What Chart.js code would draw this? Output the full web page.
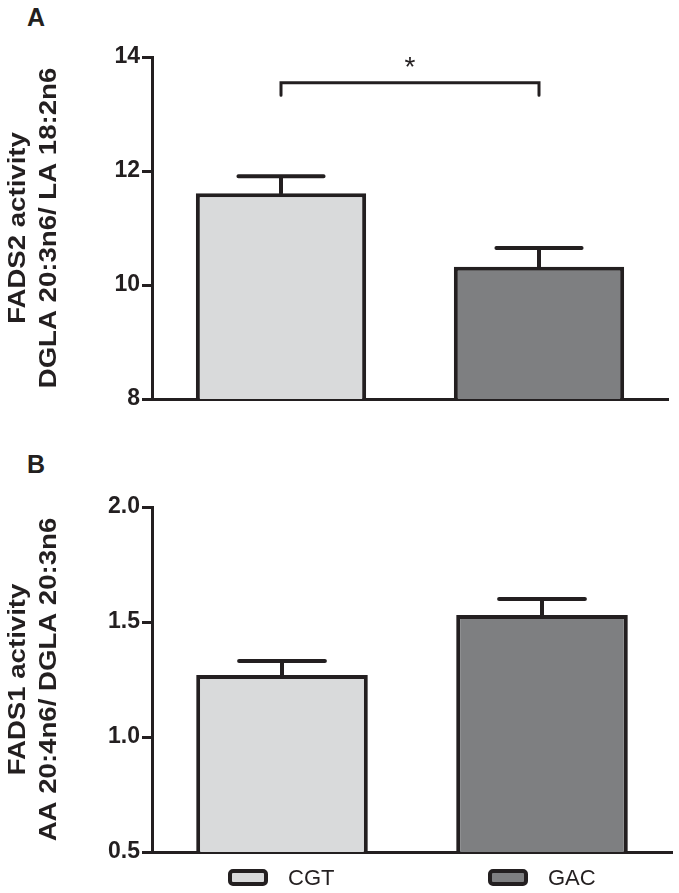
<!DOCTYPE html>
<html>
<head>
<meta charset="utf-8">
<script src="https://cdn.jsdelivr.net/npm/chart.js@4.4.0/dist/chart.umd.min.js"></script>
<style>
  body { margin: 0; background: #fff; width: 679px; height: 893px; position: relative; overflow: hidden; font-family: "Liberation Sans", Arial, sans-serif; }
  .panel-label { position: absolute; font-weight: bold; font-size: 25px; line-height: 1; color: #231f20; }
  canvas { position: absolute; left: 0; }
</style>
</head>
<body>
<div class="panel-label" style="left:27px; top:5px;">A</div>
<div class="panel-label" style="left:27px; top:452px;">B</div>
<canvas id="chartA" width="679" height="430" style="top:0"></canvas>
<canvas id="chartB" width="679" height="453" style="top:440px"></canvas>
<script>
const groups = ['CGT', 'GAC'];
const groupColors = ['#d9dadb', '#7e7f81'];

// panel A: FADS2 activity (mean, SEM)
const fads2Mean = [11.61, 10.32];
const fads2Sem = [0.30, 0.33];
const fads2Ticks = [8, 10, 12, 14];
const fads2Title = ['FADS2 activity', 'DGLA 20:3n6/ LA 18:2n6'];

// panel B: FADS1 activity (mean, SEM)
const fads1Mean = [1.27, 1.53];
const fads1Sem = [0.06, 0.07];
const fads1Ticks = [0.5, 1.0, 1.5, 2.0];
const fads1Title = ['FADS1 activity', 'AA 20:4n6/ DGLA 20:3n6'];

// significance bracket in panel A: level, tip end, star level
const sigBracket = [13.55, 13.33, 13.9];

const ink = '#231f20';
const family = '"Liberation Sans", Arial, sans-serif';

const errorBars = {
    id: 'errorBars',
    afterDatasetsDraw(chart) {
        const ds = chart.data.datasets[0];
        const meta = chart.getDatasetMeta(0);
        const y = chart.scales.y;
        const ctx = chart.ctx;
        ctx.save();
        ctx.strokeStyle = ink;
        ctx.lineWidth = 4;
        ctx.lineCap = 'round';
        meta.data.forEach((bar, i) => {
            const top = y.getPixelForValue(ds.data[i] + ds.errors[i]);
            const half = bar.width * 0.25;
            ctx.beginPath();
            ctx.moveTo(bar.x, bar.y);
            ctx.lineTo(bar.x, top);
            ctx.moveTo(bar.x - half, top);
            ctx.lineTo(bar.x + half, top);
            ctx.stroke();
        });
        ctx.restore();
    }
};

// the original figure's axis titles are stretched along their length
const axisTitle = {
    id: 'axisTitle',
    afterDraw(chart, args, opts) {
        const a = chart.chartArea, ctx = chart.ctx;
        const cy = (a.top + a.bottom) / 2;
        ctx.save();
        ctx.fillStyle = ink;
        ctx.font = 'bold 23px ' + family;
        ctx.textAlign = 'center';
        ctx.textBaseline = 'middle';
        opts.lines.forEach((line, i) => {
            ctx.save();
            ctx.translate(19 + i * 31, cy);
            ctx.rotate(-Math.PI / 2);
            ctx.scale(1.2, 1);
            ctx.fillText(line, 0, 0);
            ctx.restore();
        });
        ctx.restore();
    }
};

const significance = {
    id: 'significance',
    afterDraw(chart) {
        const x = chart.scales.x, y = chart.scales.y, ctx = chart.ctx;
        const x0 = x.getPixelForValue(0), x1 = x.getPixelForValue(1);
        const level = y.getPixelForValue(sigBracket[0]);
        const tip = y.getPixelForValue(sigBracket[1]);
        ctx.save();
        ctx.strokeStyle = ink;
        ctx.lineWidth = 3;
        ctx.lineCap = 'round';
        ctx.beginPath();
        ctx.moveTo(x0, tip);
        ctx.lineTo(x0, level);
        ctx.lineTo(x1, level);
        ctx.lineTo(x1, tip);
        ctx.stroke();
        ctx.fillStyle = ink;
        ctx.font = '28px ' + family;
        ctx.textAlign = 'center';
        ctx.textBaseline = 'middle';
        ctx.fillText('*', (x0 + x1) / 2, y.getPixelForValue(sigBracket[2]) + 6);
        ctx.restore();
    }
};

const groupLegend = {
    id: 'groupLegend',
    afterDraw(chart) {
        const x = chart.scales.x, ctx = chart.ctx;
        const cy = chart.height - 16;
        ctx.save();
        groups.forEach((g, i) => {
            const cx = x.getPixelForValue(i);
            ctx.beginPath();
            ctx.roundRect(cx - 52, cy - 6, 36, 13, 3);
            ctx.fillStyle = groupColors[i];
            ctx.fill();
            ctx.lineWidth = 4;
            ctx.strokeStyle = ink;
            ctx.stroke();
            ctx.fillStyle = ink;
            ctx.font = '22px ' + family;
            ctx.textAlign = 'left';
            ctx.textBaseline = 'alphabetic';
            ctx.fillText(g, cx + 6, cy + 8);
        });
        ctx.restore();
    }
};

function buildChart(id, mean, sem, ticks, title, pad, extra) {
    return new Chart(document.getElementById(id), {
        type: 'bar',
        data: {
            labels: groups,
            datasets: [{
                data: mean,
                errors: sem,
                backgroundColor: groupColors,
                borderColor: ink,
                borderWidth: 4,
                borderSkipped: 'bottom',
                categoryPercentage: 1,
                barPercentage: 0.66
            }]
        },
        options: {
            responsive: false,
            animation: false,
            layout: { padding: pad },
            plugins: {
                legend: { display: false },
                tooltip: { enabled: false },
                axisTitle: { lines: title }
            },
            scales: {
                x: {
                    grid: { display: false },
                    ticks: { display: false },
                    border: { color: ink, width: 3 },
                    afterFit: s => { s.height = 0; }
                },
                y: {
                    min: ticks[0],
                    max: ticks[ticks.length - 1],
                    afterBuildTicks: s => { s.ticks = ticks.map(v => ({ value: v })); },
                    afterFit: s => { s.width = 152; },
                    grid: { drawOnChartArea: false, color: ink, lineWidth: 3, tickLength: 10 },
                    border: { color: ink, width: 3 },
                    ticks: {
                        color: ink,
                        padding: 2,
                        font: { family: family, size: 23, weight: 'bold' },
                        callback: v => (ticks[0] < 1 ? v.toFixed(1) : String(v))
                    }
                }
            }
        },
        plugins: [errorBars, axisTitle].concat(extra)
    });
}

buildChart('chartA', fads2Mean, fads2Sem, fads2Ticks, fads2Title,
    { top: 57, right: 11, bottom: 31, left: 0 }, [significance]);
buildChart('chartB', fads1Mean, fads1Sem, fads1Ticks, fads1Title,
    { top: 67, right: 7, bottom: 41, left: 0 }, [groupLegend]);
</script>
</body>
</html>
